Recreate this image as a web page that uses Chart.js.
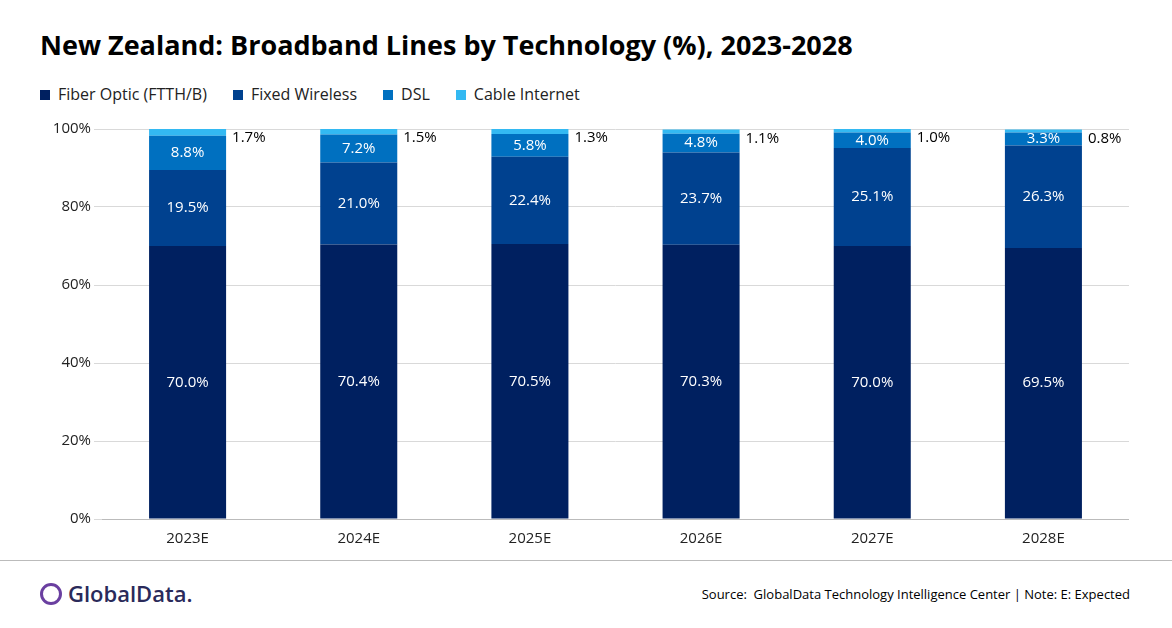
<!DOCTYPE html>
<html><head><meta charset="utf-8">
<script src="https://cdn.jsdelivr.net/npm/chart.js@4"></script>
<style>
body{margin:0;width:1172px;height:628px;background:#fff;font-family:"Open Sans",sans-serif;position:relative;overflow:hidden}
#title{position:absolute;left:40px;top:26px;font-size:27px;font-weight:bold;color:#000;letter-spacing:0px}
#legend{position:absolute;left:40px;top:83px;font-size:16px;color:#222;display:flex;gap:26px}
#legend span i{display:inline-block;width:10px;height:10px;margin-right:8px}
#wrap{position:absolute;left:50px;top:117px;width:1079px;height:434px}
#sep{position:absolute;left:0;top:560px;width:1172px;height:1px;background:#bbb}
#logo{position:absolute;left:40px;top:578px;font-size:22px;color:#2a2a5a;font-weight:600}
#logo b{display:inline-block;width:22px;height:22px;border:3px solid #6a3fa0;border-radius:50%;box-sizing:border-box;vertical-align:-3px;margin-right:6px}
#src{position:absolute;right:42px;top:585px;font-size:13px;color:#000}
</style></head><body>
<div id="title">New Zealand: Broadband Lines by Technology (%), 2023-2028</div>
<div id="legend"></div>
<div id="wrap"><canvas id="c"></canvas></div>
<div id="sep"></div>
<div id="logo"><b></b>GlobalData.</div>
<div id="src">Source:&nbsp; GlobalData Technology Intelligence Center | Note: E: Expected</div>
<script>
const years = ["2023E","2024E","2025E","2026E","2027E","2028E"];
const fiber = [70.0,70.4,70.5,70.3,70.0,69.5];
const wireless = [19.5,21.0,22.4,23.7,25.1,26.3];
const dsl = [8.8,7.2,5.8,4.8,4.0,3.3];
const cable = [1.7,1.5,1.3,1.1,1.0,0.8];
const names = ["Fiber Optic (FTTH/B)","Fixed Wireless","DSL","Cable Internet"];
const colors = ["#002060","#00418f","#0070c0","#33b9f2"];
const series = [fiber,wireless,dsl,cable];

document.getElementById("legend").innerHTML = names.map((n,i)=>`<span><i style="background:${colors[i]}"></i>${n}</span>`).join("");

const labelPlugin = {
  id: "labels",
  afterDatasetsDraw(chart) {
    const ctx = chart.ctx;
    ctx.save();
    ctx.font = "15px 'Open Sans'";
    ctx.textBaseline = "middle";
    chart.data.datasets.forEach((ds, di) => {
      chart.getDatasetMeta(di).data.forEach((bar, i) => {
        const v = ds.data[i].toFixed(1) + "%";
        if (di < 3) {
          ctx.fillStyle = "#fff";
          ctx.textAlign = "center";
          ctx.fillText(v, bar.x, (bar.y + bar.base) / 2);
        } else {
          ctx.fillStyle = "#000";
          ctx.textAlign = "left";
          ctx.fillText(v, bar.x + bar.width / 2 + 6, bar.y + 9);
        }
      });
    });
    ctx.restore();
  }
};

new Chart(document.getElementById("c"), {
  type: "bar",
  data: {
    labels: years,
    datasets: series.map((d,i)=>({label:names[i],data:d,backgroundColor:colors[i],barPercentage:0.45,categoryPercentage:1}))
  },
  options: {
    responsive:true, maintainAspectRatio:false, animation:false,
    layout:{padding:{top:10,right:0}},
    plugins:{legend:{display:false},tooltip:{enabled:false}},
    scales:{
      x:{stacked:true,grid:{display:false},border:{color:"#bbb"},ticks:{color:"#222",font:{size:15,family:"Open Sans"}}},
      y:{stacked:true,min:0,max:100,afterFit:s=>{s.width=52},ticks:{stepSize:20,color:"#222",font:{size:15,family:"Open Sans"},callback:v=>v+"%"},grid:{color:"#d9d9d9"},border:{display:false}}
    }
  },
  plugins:[labelPlugin]
});
</script>
</body></html>
